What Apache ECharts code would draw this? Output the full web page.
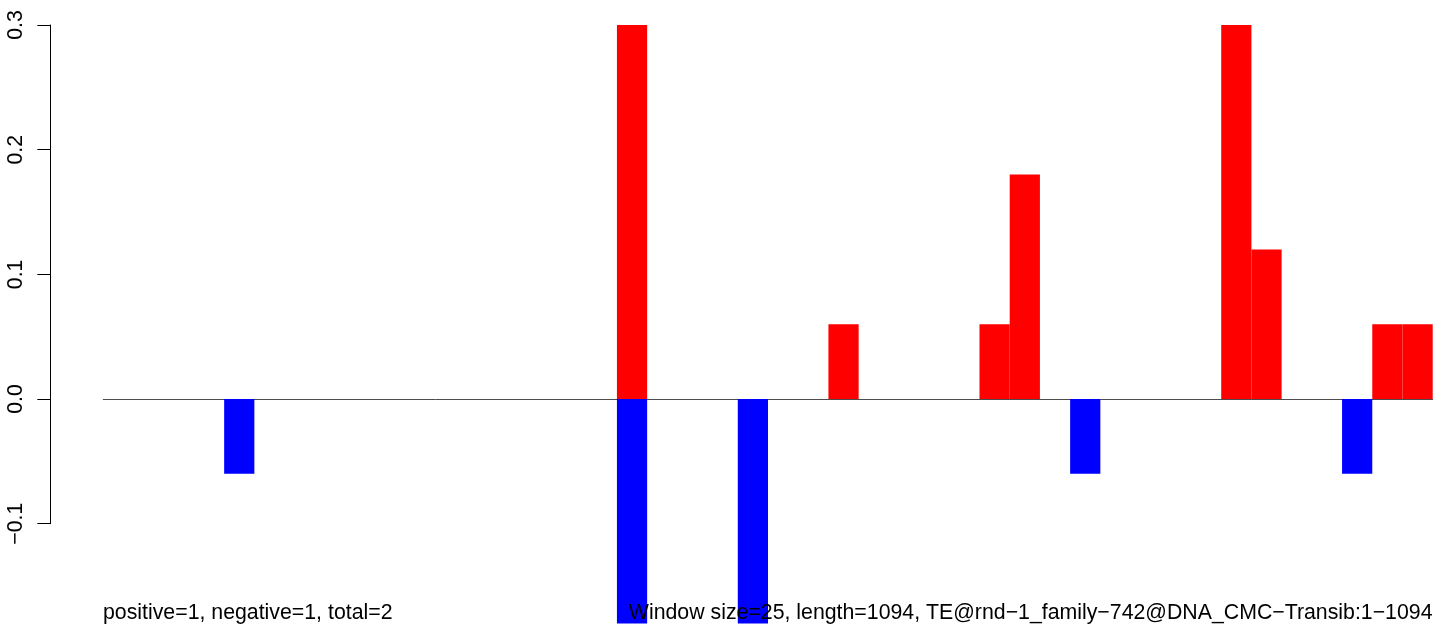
<!DOCTYPE html>
<html>
<head>
<meta charset="utf-8">
<script src="https://cdn.jsdelivr.net/npm/echarts@6/dist/echarts.min.js"></script>
<style>
html,body{margin:0;padding:0;background:#fff;}
#chart{width:1444px;height:634px;}
</style>
</head>
<body>
<div id="chart"></div>
<script>
// 44 windows of 25 bp over length 1094
const binCount = 44;
const categories = Array.from({length: binCount}, (_, i) => String(i + 1));
// window index -> value
const positiveBins = [17, 24, 29, 30, 37, 38, 42, 43];
const positiveVals = [0.30, 0.06, 0.06, 0.18, 0.30, 0.12, 0.06, 0.06];
const negativeBins = [4, 17, 21, 32, 41];
const negativeVals = [-0.06, -0.18, -0.18, -0.06, -0.06];
const yTicks = [-0.1, 0.0, 0.1, 0.2, 0.3];
const leftNote = 'positive=1, negative=1, total=2';
const rightNote = 'Window size=25, length=1094, TE@rnd\u22121_family\u2212742@DNA_CMC\u2212Transib:1\u22121094';

function toSeries(bins, vals) {
  const arr = new Array(binCount).fill(null);
  bins.forEach((b, i) => { arr[b] = vals[i]; });
  return arr;
}
const posData = toSeries(positiveBins, positiveVals);
const negData = toSeries(negativeBins, negativeVals);

const FONT = '"Liberation Sans", Arial, Helvetica, sans-serif';
const chart = echarts.init(document.getElementById('chart'), null, {renderer: 'canvas'});
chart.setOption({
  animation: false,
  backgroundColor: '#ffffff',
  grid: {left: 103.3, right: 11.3, top: 25, bottom: 110.3, containLabel: false},
  xAxis: {
    type: 'category',
    data: categories,
    boundaryGap: true,
    axisLine: {show: true, onZero: true, lineStyle: {color: '#4d4d4d', width: 1}},
    axisTick: {show: false},
    axisLabel: {show: false},
    splitLine: {show: false}
  },
  yAxis: {
    type: 'value',
    min: yTicks[0],
    max: yTicks[yTicks.length - 1],
    interval: 0.1,
    offset: 53,
    axisLine: {show: true, lineStyle: {color: '#000', width: 1}},
    axisTick: {show: true, length: 13, lineStyle: {color: '#000', width: 1}},
    splitLine: {show: false},
    axisLabel: {
      rotate: 90,
      margin: 24,
      fontSize: 21.3,
      fontFamily: FONT,
      color: '#000',
      formatter: v => {
        const s = Math.abs(v).toFixed(1);
        return v < -1e-9 ? '\u2212' + s : s;
      }
    }
  },
  series: [
    {
      name: 'positive', type: 'bar', data: posData,
      barWidth: '100%', barGap: '-100%', barCategoryGap: 0,
      clip: false,
      itemStyle: {color: '#ff0000'}, z: 2
    },
    {
      name: 'negative', type: 'bar', data: negData,
      barWidth: '100%', barGap: '-100%', barCategoryGap: 0,
      clip: false,
      itemStyle: {color: '#0000ff'}, z: 2
    }
  ],
  graphic: [
    {type: 'text', left: 103, top: 603, z: 100,
     style: {text: leftNote, font: '21.3px ' + FONT, fill: '#000'}},
    {type: 'text', right: 11.5, top: 603, z: 100,
     style: {text: rightNote, font: '21.3px ' + FONT, fill: '#000'}}
  ]
});
</script>
</body>
</html>
